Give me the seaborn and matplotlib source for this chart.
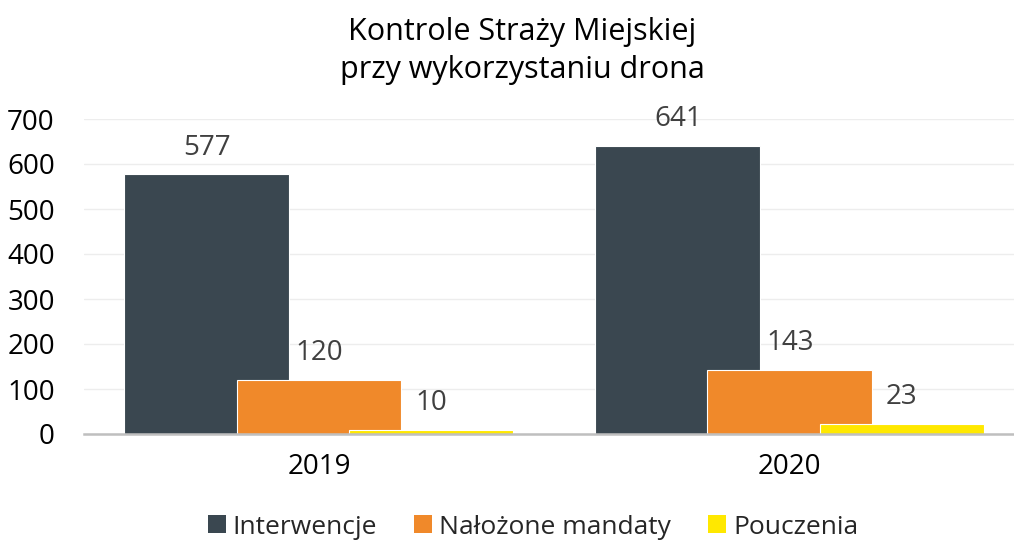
import numpy as np
import pandas as pd
import matplotlib
matplotlib.use('Agg')
import matplotlib.pyplot as plt
from matplotlib.patches import Patch
import seaborn as sns

# ---- data ----
years = ['2019', '2020']
series = ['Interwencje', 'Nałożone mandaty', 'Pouczenia']
interwencje = [577, 641]
mandaty = [120, 143]
pouczenia = [10, 23]
y_ticks = [0, 100, 200, 300, 400, 500, 600, 700]
title_lines = ['Kontrole Straży Miejskiej', 'przy wykorzystaniu drona']

colors = ['#3A4750', '#F0892A', '#FFE800']

df = pd.DataFrame({
    'Rok': years * 3,
    'Seria': [s for s in series for _ in years],
    'Wartość': interwencje + mandaty + pouczenia,
})

sns.set_theme(style='white')
plt.rcParams['font.family'] = ['Open Sans', 'DejaVu Sans']

W, H = 1014, 544
fig = plt.figure(figsize=(W / 100, H / 100), dpi=100)
ax = fig.add_axes([84 / W, 1 - 434 / H, (1014 - 84) / W, (434 - 119) / H])

sns.barplot(data=df, x='Rok', y='Wartość', hue='Seria', hue_order=series,
            order=years, palette=colors, saturation=1, ax=ax, legend=False,
            edgecolor='white', linewidth=0.8, errorbar=None)

# overlapping bars (Excel-style overlap)
bw = 0.35
off = 0.238
for k, cont in enumerate(ax.containers):
    for i, p in enumerate(cont.patches):
        p.set_width(bw)
        p.set_x(i + (k - 1) * off - bw / 2)
    ax.bar_label(cont, padding=9, fontsize=20, color='#404040')

ax.set_xlim(-0.499, 1.476)
ax.set_ylim(0, 700)
ax.set_yticks(y_ticks)
ax.set_xlabel('')
ax.set_ylabel('')
ax.yaxis.grid(True, color='#EDEDED', linewidth=1)
ax.set_axisbelow(True)
for s in ['top', 'right', 'left']:
    ax.spines[s].set_visible(False)
ax.spines['bottom'].set_color('#BFBFBF')
ax.spines['bottom'].set_linewidth(1.8)
ax.tick_params(axis='y', length=0, labelsize=20, pad=21, labelcolor='black')
ax.tick_params(axis='x', length=0, labelsize=20, pad=14, labelcolor='black')

fig.text(522 / W, 1 - 32 / H, title_lines[0], ha='center', va='center', fontsize=22, color='black')
fig.text(522 / W, 1 - 70 / H, title_lines[1], ha='center', va='center', fontsize=22, color='black')

handles = [Patch(facecolor=c, edgecolor='none') for c in colors]
fig.legend(handles, series, loc='center', bbox_to_anchor=(533 / W, 1 - 527 / H),
           ncol=3, frameon=False, fontsize=19, handlelength=0.68, handleheight=0.65,
           handletextpad=0.27, columnspacing=1.4, borderpad=0)

fig.savefig('out.png', dpi=100)
